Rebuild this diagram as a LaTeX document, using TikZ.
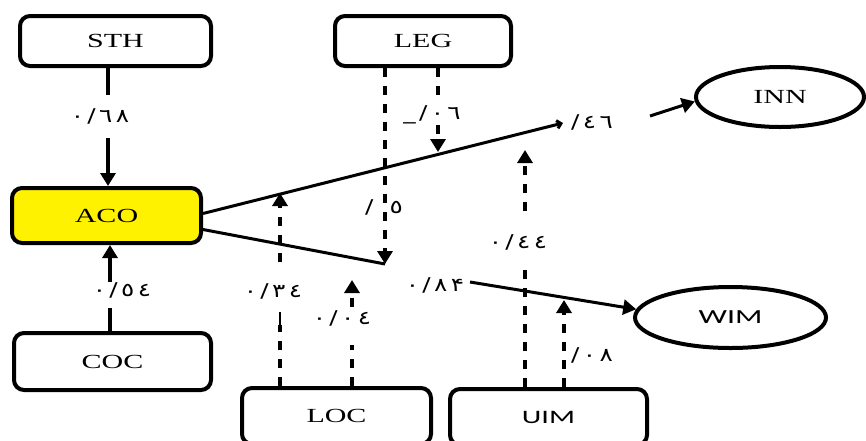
\documentclass[tikz,border=0pt]{standalone}
\usepackage{fontspec}
\usetikzlibrary{arrows.meta,shapes.geometric}
\setmainfont{Liberation Serif}
\newfontfamily\serifw[FakeStretch=1.5]{Liberation Serif}
\newfontfamily\sansw[FakeStretch=1.6]{Carlito}
\newfontfamily\arabw[FakeStretch=1.3,LetterSpace=18]{DejaVu Sans}
\begin{document}
\begin{tikzpicture}[x=1pt,y=-1pt,
  box/.style={draw, line width=4pt, rounded corners=10pt, inner sep=0pt,
    font=\serifw\fontsize{20}{20}\selectfont},
  oval/.style={draw, ellipse, line width=4pt, inner sep=0pt},
  lab/.style={inner sep=0pt, font=\arabw\fontsize{19}{19}\selectfont},
  conn/.style={line width=3.5pt},
  tipa/.style={-{Triangle[width=15pt,length=13pt]}},
  dconn/.style={line width=4pt, dash pattern=on 9pt off 9pt},
  thinl/.style={line width=1.5pt}]
\useasboundingbox (0,0) rectangle (866,440);
% nodes
\node[box, minimum width=191pt, minimum height=50pt] (sth) at (115.5,41) {STH};
\node[box, minimum width=176pt, minimum height=50pt] (leg) at (423,41) {LEG};
\node[box, fill=yellow, minimum width=189pt, minimum height=55pt] (aco) at (106.5,215.5) {ACO};
\node[box, minimum width=197pt, minimum height=57pt] (coc) at (112.5,361.5) {COC};
\node[box, minimum width=189pt, minimum height=56pt] (loc) at (336.5,416) {LOC};
\node[box, minimum width=197pt, minimum height=56pt, font=\sansw\fontsize{19}{19}\selectfont] (uim) at (548.5,417) {UIM};
\node[oval, minimum width=168pt, minimum height=60pt, font=\serifw\fontsize{20}{20}\selectfont] (inn) at (780,97) {INN};
\node[oval, minimum width=191pt, minimum height=61pt, font=\sansw\fontsize{20}{20}\selectfont] (wim) at (730.5,317.5) {WIM};
% labels
\node[lab] (l68) at (100,116) {٠/٦٨};
\node[lab] (l54) at (122,290) {٠/٥٤};
\node[lab] (l34) at (273,291) {٠/٣٤};
\node[lab] (l04) at (342,318) {٠/٠٤};
\node[lab] (l84) at (435,285) {٠/٨۴};
\node[lab] (l5) at (384,207) {/\hspace{16pt}٥};
\node[lab] (l06) at (432,115) {\_/٠٦};
\node[lab] (l46) at (592,122) {/٤٦};
\node[lab] (l44) at (518,242) {٠/٤٤};
\node[lab] (l08) at (592,355) {/٠٨};
% coordinates
\coordinate (a1) at (108,95);
\coordinate (a2) at (108,138);
\coordinate (b1) at (110,308);
\coordinate (b2) at (110,282);
\coordinate (m1) at (563,123);
\coordinate (m1b) at (650,116);
\coordinate (m2) at (385,264);
\coordinate (m2b) at (470,282);
\coordinate (g1) at (438,98);
\coordinate (g2) at (438,125);
\coordinate (g3) at (438,152);
\coordinate (c1) at (280,325);
\coordinate (c1b) at (280,312);
\coordinate (c2) at (280,262);
\coordinate (c3) at (280,193);
\coordinate (d1) at (352,345);
\coordinate (d2) at (352,307);
\coordinate (d3) at (352,280);
\coordinate (e1) at (525,268);
\coordinate (e2) at (525,211);
\coordinate (e3) at (525,150);
\coordinate (f1) at (564,300);
% solid connectors
\draw[conn] ([xshift=-7.5pt]sth.south) -- (a1);
\draw[conn,tipa] (a2) -- ([xshift=1.5pt]aco.north);
\draw[conn] ([xshift=-2.5pt]coc.north) -- (b1);
\draw[conn,tipa] (b2) -- ([xshift=3.5pt]aco.south);
\draw[line width=3pt,-{Straight Barb[length=4pt,width=8pt]}] ([yshift=2pt]aco.east) -- (m1);
\draw[line width=3pt,tipa] (m1b) -- (inn.183);
\draw[line width=3pt] ([yshift=-14pt]aco.east) -- (m2);
\draw[line width=3pt,tipa] (m2b) -- (wim.175);
% dashed connectors
\draw[dconn,tipa] ([xshift=-38pt]leg.south) -- (m2);
\draw[dconn] ([xshift=15pt]leg.south) -- (g1);
\draw[dconn,tipa] (g2) -- (g3);
\draw[dconn] ([xshift=-56.5pt]loc.north) -- (c1);
\draw[thinl] (c1) -- (c1b);
\draw[dconn,tipa] (c2) -- (c3);
\draw[dconn] ([xshift=15.5pt]loc.north) -- (d1);
\draw[dconn,tipa] (d2) -- (d3);
\draw[dconn] ([xshift=-23.5pt]uim.north) -- (e1);
\draw[dconn,tipa] (e2) -- (e3);
\draw[dconn,tipa] ([xshift=15.5pt]uim.north) -- (f1);
\end{tikzpicture}
\end{document}
